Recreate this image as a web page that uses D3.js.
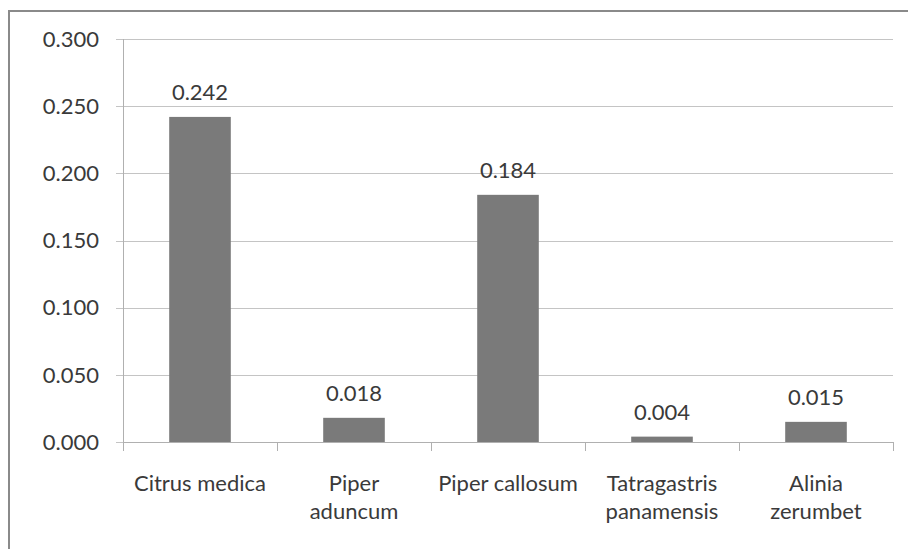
<!DOCTYPE html>
<html>
<head>
<meta charset="utf-8">
<style>
    body { margin: 0; background: #fff; }
    text { font-family: Lato, "Open Sans", sans-serif; fill: #3a3a3a; }
    .grid line { stroke: #c4c4c4; }
</style>
</head>
<body>
<svg id="chart" width="908" height="549"></svg>
<script src="https://cdn.jsdelivr.net/npm/d3@7"></script>
<script>
const categories = [["Citrus medica"], ["Piper", "aduncum"], ["Piper callosum"], ["Tatragastris", "panamensis"], ["Alinia", "zerumbet"]]
const values = [0.242, 0.018, 0.184, 0.004, 0.015]
const valueLabels = ["0.242", "0.018", "0.184", "0.004", "0.015"]
const yTicks = [0, 0.05, 0.1, 0.15, 0.2, 0.25, 0.3]

let svg = d3.select("#chart")

// outer chart frame, runs off the picture at right and bottom
svg.append("rect")
    .attr("x", 9).attr("y", 11)
    .attr("width", 920).attr("height", 560)
    .attr("fill", "none")
    .attr("stroke", "#8a8a8a")
    .attr("stroke-width", 2)

let plotLeft = 123, plotRight = 893, plotTop = 39, plotBottom = 442
let fontSize = 22

let x = d3.scaleBand()
    .domain(d3.range(categories.length))
    .range([plotLeft, plotRight])
    .paddingInner(0.6)
    .paddingOuter(0.3)

let band = (plotRight - plotLeft) / categories.length

let y = d3.scaleLinear()
    .domain([0, 0.3])
    .range([plotBottom, plotTop])

// horizontal gridlines
svg.append("g")
    .attr("class", "grid")
    .selectAll("line")
    .data(yTicks)
    .enter()
    .append("line")
    .attr("x1", plotLeft - 7)
    .attr("x2", plotRight)
    .attr("y1", d => Math.round(y(d)) + 0.5)
    .attr("y2", d => Math.round(y(d)) + 0.5)

// y axis line
svg.append("line")
    .attr("x1", plotLeft + 0.5).attr("x2", plotLeft + 0.5)
    .attr("y1", plotTop).attr("y2", plotBottom)
    .attr("stroke", "#b0b0b0")

// y tick labels
svg.append("g")
    .selectAll("text")
    .data(yTicks)
    .enter()
    .append("text")
    .attr("x", 99)
    .attr("y", d => y(d))
    .attr("dy", "0.35em")
    .attr("text-anchor", "end")
    .attr("font-size", fontSize)
    .text(d => d3.format(".3f")(d))

// x axis with category separators
svg.append("line")
    .attr("x1", plotLeft).attr("x2", plotRight)
    .attr("y1", plotBottom + 0.5).attr("y2", plotBottom + 0.5)
    .attr("stroke", "#b0b0b0")

svg.append("g")
    .selectAll("line")
    .data(d3.range(categories.length + 1))
    .enter()
    .append("line")
    .attr("x1", i => Math.round(plotLeft + i * band) + 0.5)
    .attr("x2", i => Math.round(plotLeft + i * band) + 0.5)
    .attr("y1", plotBottom)
    .attr("y2", plotBottom + 9)
    .attr("stroke", "#b0b0b0")

// bars
svg.append("g")
    .selectAll("rect")
    .data(values)
    .enter()
    .append("rect")
    .attr("x", (d, i) => x(i))
    .attr("width", x.bandwidth())
    .attr("y", d => y(d))
    .attr("height", d => plotBottom - y(d))
    .attr("fill", "#7a7a7a")

// value labels
svg.append("g")
    .selectAll("text")
    .data(values)
    .enter()
    .append("text")
    .attr("x", (d, i) => x(i) + x.bandwidth() / 2)
    .attr("y", d => y(d) - 17)
    .attr("text-anchor", "middle")
    .attr("font-size", fontSize)
    .text((d, i) => valueLabels[i])

// category labels
let cat = svg.append("g")
    .selectAll("text")
    .data(categories)
    .enter()
    .append("text")
    .attr("x", (d, i) => x(i) + x.bandwidth() / 2)
    .attr("y", 491)
    .attr("text-anchor", "middle")
    .attr("font-size", fontSize)

cat.selectAll("tspan")
    .data(d => d)
    .enter()
    .append("tspan")
    .attr("x", function () { return d3.select(this.parentNode).attr("x") })
    .attr("dy", (d, i) => i == 0 ? 0 : 28)
    .text(d => d)
</script>
</body>
</html>
